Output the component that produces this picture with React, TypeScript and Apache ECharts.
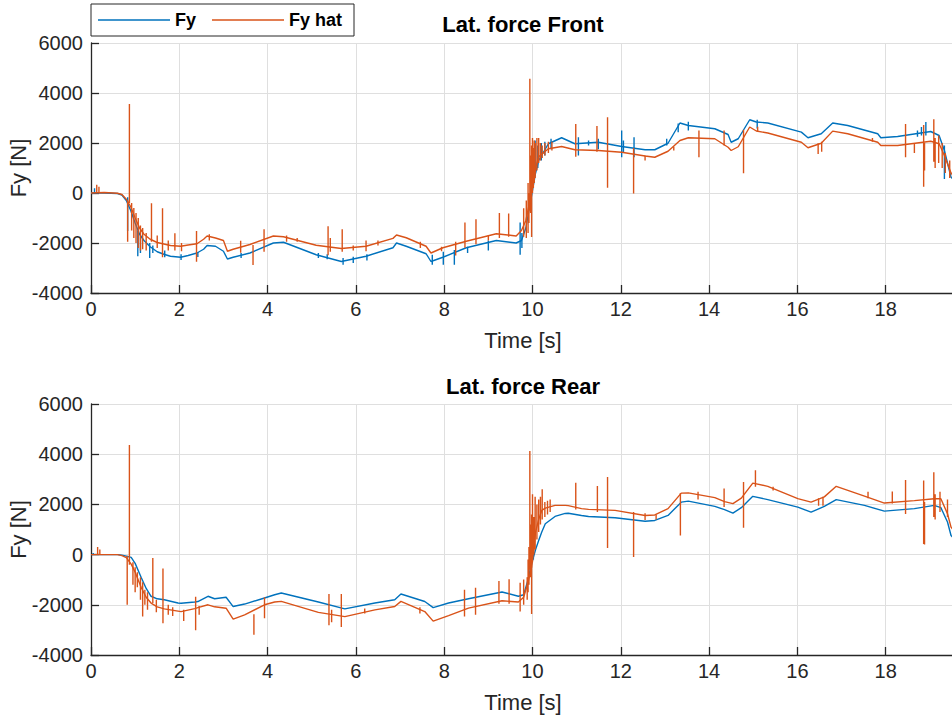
import React, { useEffect, useRef } from 'react';
import * as echarts from 'echarts';

// ---------- Front axle (top plot) ----------
const frontTime = [0, 0.3, 0.6, 0.7, 0.8, 0.9, 1.0, 1.1, 1.2, 1.34, 1.5, 1.65, 1.8, 2.03, 2.2, 2.4, 2.55, 2.63, 2.82, 3.0, 3.09, 3.22, 3.6, 4.13, 4.36, 5.1, 5.67, 6.23, 6.84, 6.92, 7.14, 7.59, 7.7, 7.97, 8.5, 9.18, 9.63, 9.75, 9.85, 9.92, 10.0, 10.07, 10.14, 10.36, 10.66, 10.96, 11.49, 12.02, 12.55, 12.77, 13.07, 13.34, 13.53, 14.13, 14.43, 14.5, 14.66, 14.92, 15.07, 15.33, 16.09, 16.24, 16.54, 16.8, 17.14, 17.82, 17.89, 18.27, 19.02, 19.21, 19.33, 19.48, 19.57];
const frontFy = [0, 0, -20, -80, -300, -700, -1200, -1650, -1900, -2150, -2350, -2450, -2530, -2570, -2500, -2400, -2250, -2100, -2130, -2330, -2640, -2570, -2400, -2000, -1970, -2470, -2740, -2530, -2190, -2000, -2130, -2430, -2740, -2570, -2190, -1900, -2000, -1900, -1400, -700, 100, 800, 1300, 1970, 2210, 1970, 2030, 1860, 1730, 1730, 1990, 2800, 2700, 2570, 2340, 2030, 2170, 2930, 2840, 2800, 2435, 2210, 2370, 2800, 2700, 2370, 2210, 2260, 2460, 2300, 1700, 630, 500];
const frontFyHat = [0, 20, -10, -60, -250, -550, -1000, -1400, -1650, -1850, -1980, -2040, -2100, -2130, -2080, -2030, -1850, -1720, -1800, -1900, -2330, -2250, -2060, -1720, -1750, -2090, -2220, -2130, -1815, -1680, -1790, -2130, -2400, -2190, -1930, -1630, -1720, -1500, -1100, -500, 300, 1000, 1450, 1770, 1860, 1730, 1700, 1630, 1480, 1430, 1670, 2100, 2210, 2170, 1830, 1700, 1850, 2640, 2480, 2400, 2030, 1810, 1990, 2475, 2370, 2030, 1900, 1900, 2070, 1970, 1500, 800, 600];
// spikes: [time, low, high]
const frontFySpikes = [
  [0.08, 0, 190], [0.83, -1520, -170], [1.06, -2530, -1500], [1.12, -2400, -1700], [1.33, -2600, -2000], [1.4, -2400, -2100],
  [1.67, -2570, -2300], [2.04, -2680, -2450], [2.42, -2560, -2360], [3.4, -2600, -2400], [5.15, -2600, -2400], [5.35, -2650, -2450],
  [5.71, -2870, -2600], [5.94, -2800, -2550], [6.25, -2700, -2450], [7.73, -2870, -2470], [7.98, -2870, -2350], [8.23, -2870, -2280],
  [8.53, -2400, -2150], [9.0, -2300, -1900], [9.72, -2470, -1180], [9.76, -2200, -1600],
  [10.06, 900, 2100], [10.12, 1000, 1900], [10.2, 1300, 2000], [10.28, 1500, 2050], [10.42, 1750, 2170], [11.04, 1500, 2230],
  [11.27, 1900, 2100], [11.49, 1750, 2170], [12.02, 1430, 2500], [12.06, 1630, 2100], [12.3, 1430, 2230], [13.04, 1900, 2170],
  [13.3, 2430, 2780], [13.53, 2500, 2850], [15.09, 2580, 2930], [18.72, 2250, 2500], [18.81, 2300, 2640], [18.91, 2300, 2840],
  [19.33, 560, 1900]
];
const frontFyHatSpikes = [
  [0.13, 0, 330], [0.18, 0, 250], [0.83, -1950, -300], [0.87, -400, 3560], [0.92, -1500, -400], [0.97, -1800, -600],
  [1.02, -2000, -800], [1.07, -2200, -1000], [1.12, -2300, -1300], [1.17, -2250, -1400], [1.25, -2300, -1600], [1.37, -1950, -410],
  [1.5, -2200, -1700], [1.62, -2570, -610], [1.75, -2300, -1900], [1.9, -2300, -1610], [2.05, -2330, -2000], [2.39, -2750, -1520],
  [2.68, -1900, -1650], [3.39, -2390, -1910], [3.67, -2880, -2080], [3.92, -2350, -1450], [4.43, -1950, -1700], [4.67, -1950, -1800],
  [5.37, -2490, -1330], [5.42, -2350, -1800], [5.69, -2350, -1450], [5.94, -2300, -2100], [6.23, -2330, -1900], [6.5, -2100, -1900],
  [7.46, -2200, -1950], [7.94, -2330, -2150], [8.26, -2500, -1950], [8.47, -2190, -1180], [8.72, -2050, -1050], [9.0, -1900, -1700],
  [9.25, -1800, -800], [9.46, -1750, -820], [9.8, -1750, -610],
  [9.86, -1800, -300], [9.9, -1600, 400], [9.92, -1200, 0], [9.94, -700, 4570], [9.96, -800, 1500], [9.98, -1760, 1900],
  [10.0, 0, 2200], [10.02, 200, 1800], [10.04, 400, 2100], [10.06, 600, 2000], [10.1, 900, 2200], [10.14, 1200, 2200],
  [10.18, 1300, 2000], [10.22, 1400, 1900], [10.28, 1500, 2000], [10.36, 1600, 2050], [10.44, 1700, 2050],
  [10.98, 1450, 2760], [11.46, 1650, 2680], [11.7, 210, 3030], [12.29, -20, 1800], [12.55, 1300, 1500], [13.2, 1700, 1850],
  [13.77, 1430, 2500], [14.34, 1900, 2500], [14.78, 790, 2530], [15.1, 2450, 2650], [16.47, 1560, 1990], [16.55, 1650, 2050],
  [17.7, 2050, 2200], [18.45, 1430, 2760], [18.65, 1600, 2000], [18.86, 250, 2720], [18.88, 900, 2000], [19.09, 1250, 2950],
  [19.12, 1000, 2200], [19.2, 1200, 2300], [19.28, 1000, 2000], [19.35, 800, 1600], [19.45, 600, 1300]
];

// ---------- Rear axle (bottom plot) ----------
const rearTime = [0, 0.3, 0.6, 0.7, 0.8, 0.91, 1.0, 1.14, 1.25, 1.36, 1.5, 1.66, 1.97, 2.04, 2.35, 2.42, 2.65, 2.8, 3.06, 3.22, 3.48, 3.93, 4.16, 4.31, 5.15, 5.75, 6.43, 6.88, 7.02, 7.56, 7.75, 8.1, 8.55, 9.31, 9.68, 9.8, 9.9, 9.98, 10.07, 10.14, 10.21, 10.29, 10.51, 10.74, 10.81, 11.11, 11.27, 11.87, 12.55, 12.77, 13.07, 13.37, 13.53, 14.13, 14.35, 14.54, 14.73, 14.99, 15.33, 16.01, 16.31, 16.61, 16.88, 17.52, 17.97, 18.65, 19.1, 19.25, 19.4, 19.48, 19.57];
const rearFy = [0, 0, 0, -20, -60, -110, -350, -920, -1350, -1660, -1760, -1800, -1930, -1940, -1890, -1870, -1660, -1760, -1700, -2070, -1970, -1730, -1600, -1530, -1890, -2160, -1930, -1800, -1570, -1870, -2110, -1930, -1760, -1490, -1660, -1600, -1000, -370, 200, 560, 900, 1230, 1520, 1640, 1650, 1560, 1520, 1470, 1330, 1360, 1560, 2090, 2130, 1920, 1790, 1650, 1870, 2320, 2190, 1890, 1690, 1920, 2190, 1960, 1730, 1830, 1960, 1870, 1300, 760, 600];
const rearFyHat = [0, 0, 0, -40, -120, -380, -700, -1320, -1700, -1930, -2080, -2160, -2250, -2270, -2150, -2110, -2000, -2080, -2135, -2570, -2400, -2000, -1890, -1865, -2300, -2470, -2200, -2070, -1865, -2270, -2650, -2430, -2135, -1840, -1890, -1700, -1100, -500, 900, 1400, 1760, 1850, 1960, 1960, 1950, 1830, 1800, 1760, 1560, 1580, 1830, 2450, 2460, 2270, 2110, 2030, 2250, 2850, 2720, 2230, 2090, 2300, 2720, 2330, 2053, 2150, 2226, 2226, 1626, 1093, 900];
const rearFySpikes = [
  [0.05, 0, 60], [9.95, -800, -200], [10.02, -200, 400]
];
const rearFyHatSpikes = [
  [0.15, 0, 300], [0.2, 0, 200], [0.82, -2000, -50], [0.87, -400, 4370], [0.95, -1200, -300], [1.0, -1500, -500],
  [1.05, -1300, -700], [1.12, -1800, -900], [1.17, -2470, -1100], [1.22, -2000, -1400], [1.28, -2200, -1500], [1.4, -1930, -135],
  [1.48, -2300, -1800], [1.63, -2740, -554], [1.75, -2400, -2000], [1.85, -2450, -2100], [2.1, -2650, -2200], [2.37, -3010, -1680],
  [2.45, -2400, -2050], [3.69, -3190, -2380], [3.93, -2540, -1700], [5.39, -2810, -1570], [5.45, -2700, -2200], [5.67, -2880, -1570],
  [6.2, -2350, -2150], [7.45, -2350, -2100], [8.46, -2470, -1405], [8.71, -2400, -1324], [9.24, -1960, -1054], [9.47, -1960, -986],
  [9.72, -2270, -1120], [9.8, -2000, -990],
  [9.88, -1800, -900], [9.9, -1500, -200], [9.92, -1200, 300], [9.94, -600, 4130], [9.96, -900, 1200], [9.98, -2370, 1600],
  [10.0, -300, 2400], [10.03, 0, 1500], [10.06, 200, 2300], [10.1, 600, 2000], [10.14, 900, 2200], [10.18, 1200, 2300],
  [10.22, 1400, 2600], [10.28, 1500, 2100], [10.34, 1600, 2150], [10.4, 1700, 2200],
  [10.98, 1800, 2860], [11.47, 1700, 2730], [11.7, 260, 3090], [12.29, -100, 1700], [12.55, 1380, 1650], [12.8, 1400, 1600],
  [13.35, 760, 2450], [13.75, 2200, 2500], [14.34, 1900, 2630], [14.78, 1070, 2890], [15.05, 2700, 3360], [15.45, 2550, 2700],
  [16.48, 1950, 2250], [16.58, 1950, 2300], [17.6, 2250, 2500], [18.15, 2040, 2510], [18.45, 1620, 2970], [18.86, 420, 2950],
  [18.88, 400, 2100], [19.09, 1500, 3280], [19.12, 1400, 2400], [19.23, 1700, 2500], [19.4, 1500, 2200]
];

const xTicks = [0, 2, 4, 6, 8, 10, 12, 14, 16, 18];
const yTicks = [-4000, -2000, 0, 2000, 4000, 6000];
const titles = ['Lat. force Front', 'Lat. force Rear'];
const seriesNames = ['Fy', 'Fy hat'];

const BLUE = '#0072BD';
const ORANGE = '#D95319';
const AX = '#262626';
const FONT = 'Liberation Sans, Arial, Helvetica, sans-serif';

const pairs = (t: number[], v: number[]) => t.map((x, i) => [x, v[i]]);
const spikeData = (s: number[][]) =>
  s.flatMap(([t, lo, hi]) => [[t, lo], [t, hi], [t, null]]);

export default function App() {
  const ref = useRef<HTMLDivElement>(null);
  useEffect(() => {
    if (!ref.current) return;
    const chart = echarts.init(ref.current, undefined, { renderer: 'svg' });
    const grids = [
      { left: 91, top: 43, width: 864, height: 250, containLabel: false, outerBoundsMode: 'none' },
      { left: 91, top: 404, width: 864, height: 251, containLabel: false, outerBoundsMode: 'none' },
    ];
    const mkX = (gi: number) => ({
      type: 'value',
      gridIndex: gi,
      min: 0,
      max: 19.57,
      interval: 2,
      name: 'Time [s]',
      nameLocation: 'middle',
      nameGap: 36,
      nameMoveOverlap: false,
      nameTextStyle: { fontSize: 22, color: AX, fontFamily: FONT },
      axisLine: { show: true, onZero: false, lineStyle: { color: AX, width: 1.3 } },
      axisTick: { show: true, inside: true, length: 8, lineStyle: { color: AX, width: 1.3 } },
      axisLabel: {
        fontSize: 20, color: AX, fontFamily: FONT, margin: 6,
        showMaxLabel: false,
        formatter: (v: number) => (xTicks.includes(v) ? String(v) : ''),
      },
      splitLine: { show: true, lineStyle: { color: '#dfdfdf', width: 1 } },
    });
    const mkY = (gi: number) => ({
      type: 'value',
      gridIndex: gi,
      min: yTicks[0],
      max: yTicks[yTicks.length - 1],
      interval: 2000,
      name: 'Fy [N]',
      nameLocation: 'middle',
      nameGap: 62,
      nameMoveOverlap: false,
      nameTextStyle: { fontSize: 22, color: AX, fontFamily: FONT },
      axisLine: { show: true, onZero: false, lineStyle: { color: AX, width: 1.3 } },
      axisTick: { show: true, inside: true, length: 8, lineStyle: { color: AX, width: 1.3 } },
      axisLabel: {
        fontSize: 20, color: AX, fontFamily: FONT, margin: 8,
        formatter: (v: number) => String(v),
      },
      splitLine: { show: true, lineStyle: { color: '#dfdfdf', width: 1 } },
    });
    const line = (name: string, data: any[], color: string, gi: number) => ({
      type: 'line',
      name,
      data,
      xAxisIndex: gi,
      yAxisIndex: gi,
      showSymbol: false,
      symbol: 'none',
      connectNulls: false,
      clip: true,
      lineStyle: { color, width: 1.4 },
      itemStyle: { color },
      emphasis: { disabled: true },
    });
    chart.setOption({
      animation: false,
      backgroundColor: '#ffffff',
      title: titles.map((t, i) => ({
        text: t,
        left: 523,
        top: i === 0 ? 13 : 375,
        textAlign: 'center',
        padding: 0,
        textStyle: { fontSize: 22, fontWeight: 'bold', color: '#000', fontFamily: FONT },
      })),
      legend: {
        data: seriesNames.map((n) => ({ name: n, icon: 'rect' })),
        left: 91,
        top: 4,
        orient: 'horizontal',
        itemWidth: 72,
        itemHeight: 1.5,
        itemGap: 16,
        padding: [7, 12, 7, 7],
        borderColor: AX,
        borderWidth: 1,
        borderRadius: 0,
        backgroundColor: '#ffffff',
        selectedMode: false,
        textStyle: { fontSize: 18, fontWeight: 'bold', color: '#000', fontFamily: FONT },
      },
      grid: grids,
      xAxis: [mkX(0), mkX(1)],
      yAxis: [mkY(0), mkY(1)],
      series: [
        line(seriesNames[0], pairs(frontTime, frontFy), BLUE, 0),
        line(seriesNames[0], spikeData(frontFySpikes), BLUE, 0),
        line(seriesNames[1], pairs(frontTime, frontFyHat), ORANGE, 0),
        line(seriesNames[1], spikeData(frontFyHatSpikes), ORANGE, 0),
        line(seriesNames[0], pairs(rearTime, rearFy), BLUE, 1),
        line(seriesNames[0], spikeData(rearFySpikes), BLUE, 1),
        line(seriesNames[1], pairs(rearTime, rearFyHat), ORANGE, 1),
        line(seriesNames[1], spikeData(rearFyHatSpikes), ORANGE, 1),
      ],
    });
    return () => chart.dispose();
  }, []);
  return (
    <div
      ref={ref}
      style={{ position: 'fixed', left: 0, top: 0, width: 952, height: 718, background: '#fff' }}
    />
  );
}
